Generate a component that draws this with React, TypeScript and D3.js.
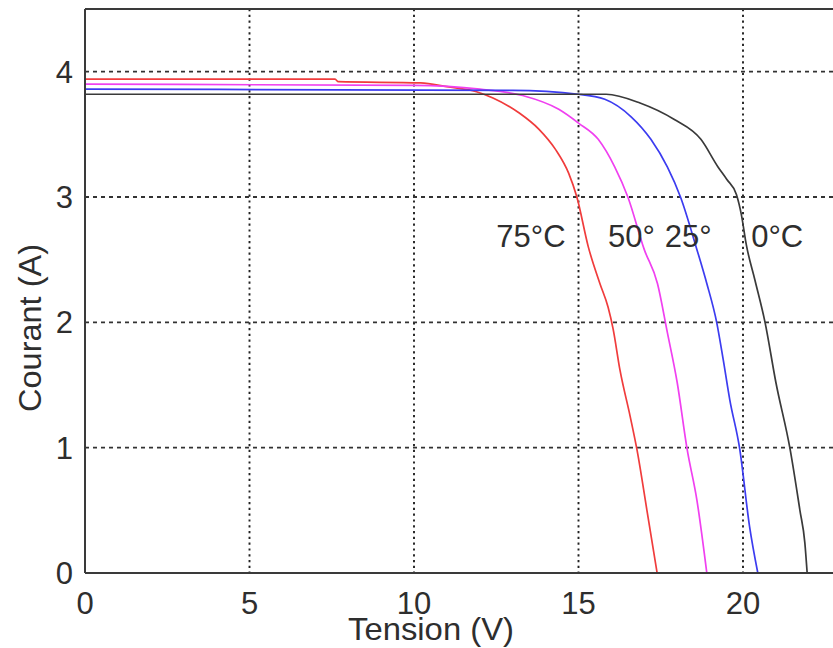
import React from "react";
import * as d3 from "d3";

const xTicks = [0, 5, 10, 15, 20];
const yTicks = [0, 1, 2, 3, 4];

const v75 = [0, 7.6, 7.7, 10.2, 11.0, 11.9, 12.4, 13.2, 13.8, 14.3, 14.7, 14.95, 15.3, 15.65, 15.9, 16.05, 16.26, 16.57, 16.78, 17.08, 17.39];
const i75 = [3.94, 3.94, 3.92, 3.91, 3.88, 3.84, 3.79, 3.67, 3.54, 3.38, 3.19, 3.0, 2.6, 2.31, 2.12, 1.95, 1.62, 1.25, 0.98, 0.5, 0];

const v50 = [0, 10, 12, 13.3, 14.4, 15.0, 15.6, 16.1, 16.5, 17.0, 17.4, 17.7, 18.0, 18.3, 18.6, 18.9];
const i50 = [3.9, 3.89, 3.86, 3.81, 3.70, 3.59, 3.46, 3.24, 3.0, 2.58, 2.31, 1.92, 1.52, 0.99, 0.58, 0];

const v25 = [0, 13, 15, 15.8, 16.6, 17.2, 17.7, 18.1, 18.6, 18.9, 19.2, 19.4, 19.6, 19.9, 20.2, 20.45];
const i25 = [3.86, 3.85, 3.82, 3.78, 3.64, 3.46, 3.24, 3.0, 2.58, 2.31, 2.0, 1.7, 1.38, 0.99, 0.37, 0];

const v0 = [0, 15.84, 16.87, 17.9, 18.72, 19.24, 19.51, 19.8, 19.95, 20.1, 20.36, 20.67, 21.0, 21.43, 21.73, 21.88, 21.95];
const i0 = [3.82, 3.82, 3.75, 3.62, 3.46, 3.24, 3.14, 3.02, 2.86, 2.62, 2.34, 2.0, 1.52, 0.99, 0.5, 0.24, 0];

const seriesNames = ["75°C", "50°C", "25°C", "0°C"];
const curveLabels = ["75°C", "50°", "25°", "0°C"];
const labelV = [12.5, 15.9, 17.62, 20.25];
const labelI = [2.6, 2.6, 2.6, 2.6];

const W = 833;
const H = 648;
const left = 85;
const top = 9;
const bottom = 573;
const xMax = 25;

export default function App() {
  const x = d3.scaleLinear().domain([0, xMax]).range([left, left + 32.9 * xMax]);
  const y = d3.scaleLinear().domain([0, 4.5]).range([bottom, top]);
  const line = d3
    .line<[number, number]>()
    .x((d) => x(d[0]))
    .y((d) => y(d[1]))
    .curve(d3.curveMonotoneX);

  const series = [
    { name: seriesNames[0], v: v75, i: i75, color: "#f03c3c" },
    { name: seriesNames[1], v: v50, i: i50, color: "#f040f0" },
    { name: seriesNames[2], v: v25, i: i25, color: "#3c3cf0" },
    { name: seriesNames[3], v: v0, i: i0, color: "#3a3a3a" },
  ];

  const font = "'Liberation Sans', Arial, Helvetica, sans-serif";
  const textColor = "#2e2e2e";
  const right = x(xMax);

  return (
    <svg
      width={W}
      height={H}
      style={{ position: "absolute", left: 0, top: 0, background: "#fff" }}
      fontFamily={font}
    >
      <defs>
        <clipPath id="plot">
          <rect x={left} y={top} width={right - left} height={bottom - top} />
        </clipPath>
      </defs>
      <rect x={0} y={0} width={W} height={H} fill="#fff" />
      {xTicks
        .filter((t) => t > 0)
        .map((t) => (
          <line
            key={"gx" + t}
            x1={x(t)}
            x2={x(t)}
            y1={top}
            y2={bottom}
            stroke="#222"
            strokeWidth={1.9}
            strokeDasharray="2.2,3.6"
          />
        ))}
      {yTicks
        .filter((t) => t > 0)
        .map((t) => (
          <line
            key={"gy" + t}
            x1={left}
            x2={right}
            y1={y(t)}
            y2={y(t)}
            stroke="#333"
            strokeWidth={1.9}
            strokeDasharray="4,4"
          />
        ))}
      <g clipPath="url(#plot)">
        {series.map((s) => (
          <path
            key={s.name}
            d={line(s.v.map((v, k) => [v, s.i[k]] as [number, number])) || ""}
            fill="none"
            stroke={s.color}
            strokeWidth={1.7}
          />
        ))}
      </g>
      <line x1={left} x2={left} y1={top} y2={bottom} stroke="#3a3a3a" strokeWidth={2} />
      <line x1={left} x2={right} y1={bottom} y2={bottom} stroke="#3a3a3a" strokeWidth={2} />
      <line x1={left} x2={right} y1={top} y2={top} stroke="#3a3a3a" strokeWidth={2} />
      {xTicks.map((t) => (
        <text
          key={"tx" + t}
          x={x(t)}
          y={614}
          textAnchor="middle"
          fontSize={31}
          fill={textColor}
        >
          {t}
        </text>
      ))}
      {yTicks.map((t) => (
        <text
          key={"ty" + t}
          x={73}
          y={y(t) + 11}
          textAnchor="end"
          fontSize={31}
          fill={textColor}
        >
          {t}
        </text>
      ))}
      {curveLabels.map((l, k) => (
        <text
          key={"cl" + k}
          x={x(labelV[k])}
          y={y(labelI[k])}
          fontSize={31}
          fill={textColor}
        >
          {l}
        </text>
      ))}
      <text
        x={431}
        y={640}
        textAnchor="middle"
        fontSize={32}
        fill={textColor}
        textLength={166}
        lengthAdjust="spacingAndGlyphs"
      >
        Tension (V)
      </text>
      <text
        transform={`translate(41, 328) rotate(-90)`}
        textAnchor="middle"
        fontSize={32}
        fill={textColor}
        textLength={168}
        lengthAdjust="spacingAndGlyphs"
      >
        Courant (A)
      </text>
    </svg>
  );
}
